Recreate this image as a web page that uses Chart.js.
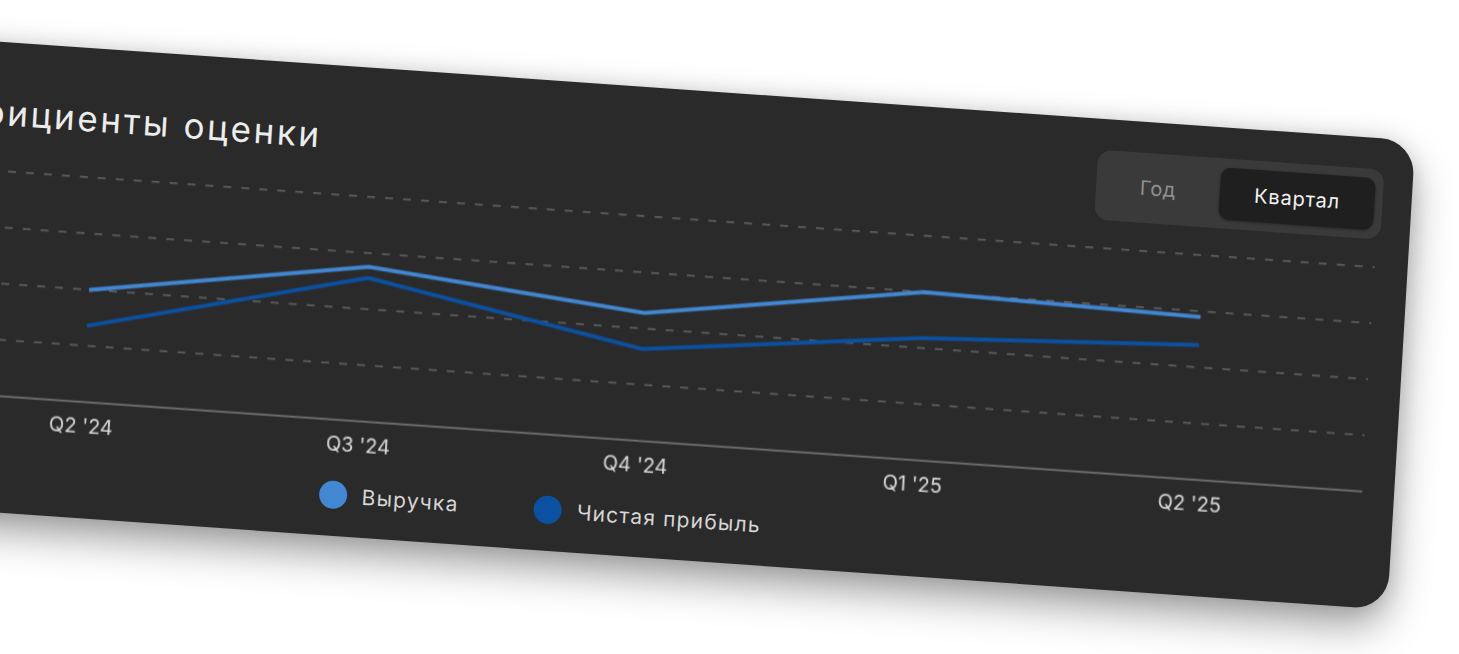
<!DOCTYPE html>
<html>
<head>
<meta charset="utf-8">
<script src="https://cdn.jsdelivr.net/npm/chart.js@4.4.1/dist/chart.umd.min.js"></script>
<style>
  html, body { margin: 0; padding: 0; width: 1459px; height: 654px; overflow: hidden; background: #ffffff; }
  #card {
    position: absolute; left: -123.9px; top: 33.2px; width: 1543px; height: 469px;
    background: #2a2a2a; border-radius: 34px;
    transform-origin: 0 0; transform: matrix(0.9976, 0.0698, -0.06, 1, 0, 0);
    box-shadow: 0 18px 40px rgba(0,0,0,0.38), 0 0 20px rgba(0,0,0,0.10);
    font-family: Inter, "Open Sans", sans-serif;
  }
  #title {
    position: absolute; right: 1092px; top: 53px; font-size: 35px; line-height: 1;
    color: #ececec; white-space: nowrap; letter-spacing: 2.6px; font-weight: 400;
  }
  #toggle {
    position: absolute; left: 1227px; top: 31px; width: 287px; height: 70px;
    border-radius: 14px; background: #3a3a3a;
  }
  #toggle .off {
    position: absolute; left: 0; top: 0; width: 124px; height: 70px;
    display: flex; align-items: center; justify-content: center;
    color: #8f8f8f; font-size: 20px; letter-spacing: 0.6px;
  }
  #toggle .on {
    position: absolute; left: 124px; top: 8.5px; width: 155px; height: 52px;
    border-radius: 10px; background: #1f1f1f; box-shadow: 0 1px 3px rgba(0,0,0,0.35);
    display: flex; align-items: center; justify-content: center;
    color: #f2f2f2; font-size: 20px; letter-spacing: 0.8px;
  }
  #chartWrap { position: absolute; left: 136px; top: 119px; width: 1378px; height: 292px; }
  .legItem { position: absolute; top: 414px; height: 28px; display: flex; align-items: center; }
  .legItem .dot { width: 28px; height: 28px; border-radius: 50%; margin-right: 15px; flex: none; }
  .legItem .txt { color: #d6d6d6; font-size: 21px; letter-spacing: 1.2px; white-space: nowrap; }
</style>
</head>
<body>
<div id="card">
  <div id="title">Коэффициенты оценки</div>
  <div id="toggle"><div class="off">Год</div><div class="on">Квартал</div></div>
  <div id="chartWrap"><canvas id="c"></canvas></div>
  <div id="legend"></div>
</div>
<script>
// ---- data ----
const quarters = ["Q2 '24", "Q3 '24", "Q4 '24", "Q1 '25", "Q2 '25"];
const seriesNames = ["Выручка", "Чистая прибыль"];
const seriesColors = ["#4287d2", "#0a51a1"];
const revenue = [10.0, 13.8, 11.4, 15.0, 14.5];
const netProfit = [6.8, 12.8, 8.2, 10.9, 12.0];
const yTickValues = [0, 5, 10, 15, 20];

// ---- chart ----
const toXY = (arr) => arr.map((y, i) => ({ x: i, y }));
const seriesData = [revenue, netProfit];

const chart = new Chart(document.getElementById('c'), {
  type: 'line',
  data: {
    datasets: seriesData.map((d, k) => ({
      label: seriesNames[k],
      data: toXY(d),
      borderColor: seriesColors[k],
      backgroundColor: seriesColors[k],
      borderWidth: 4,
      pointRadius: 0,
      tension: 0,
      fill: false
    }))
  },
  options: {
    responsive: true,
    maintainAspectRatio: false,
    animation: false,
    layout: { padding: { left: 4, right: 4, top: 10, bottom: 8 } },
    plugins: { legend: { display: false }, tooltip: { enabled: false } },
    scales: {
      x: {
        type: 'linear',
        min: -0.317,
        max: 4.615,
        afterBuildTicks: (scale) => { scale.ticks = quarters.map((_, i) => ({ value: i })); },
        ticks: {
          autoSkip: false, maxRotation: 0, minRotation: 0,
          padding: 13, color: '#dcdcdc',
          font: { family: 'Inter', size: 20 },
          callback: (v) => quarters[v]
        },
        grid: { display: false, drawTicks: false },
        border: { display: true, color: '#6b6b6b', width: 2 }
      },
      y: {
        min: yTickValues[0],
        max: yTickValues[yTickValues.length - 1],
        afterBuildTicks: (scale) => { scale.ticks = yTickValues.map(v => ({ value: v })); },
        ticks: { display: false },
        grid: {
          drawTicks: false,
          lineWidth: 1.5,
          color: (ctx) => (ctx.tick && ctx.tick.value === yTickValues[0]) ? 'rgba(0,0,0,0)' : 'rgba(255,255,255,0.29)'
        },
        border: { display: false, dash: [8, 10] }
      }
    }
  }
});

// ---- legend (built from series names / colors) ----
const legendLefts = [469.7, 685.3];
const legend = document.getElementById('legend');
seriesNames.forEach((name, k) => {
  const item = document.createElement('div');
  item.className = 'legItem';
  item.style.left = legendLefts[k] + 'px';
  item.innerHTML = '<span class="dot" style="background:' + seriesColors[k] + '"></span><span class="txt">' + name + '</span>';
  legend.appendChild(item);
});
</script>
</body>
</html>
